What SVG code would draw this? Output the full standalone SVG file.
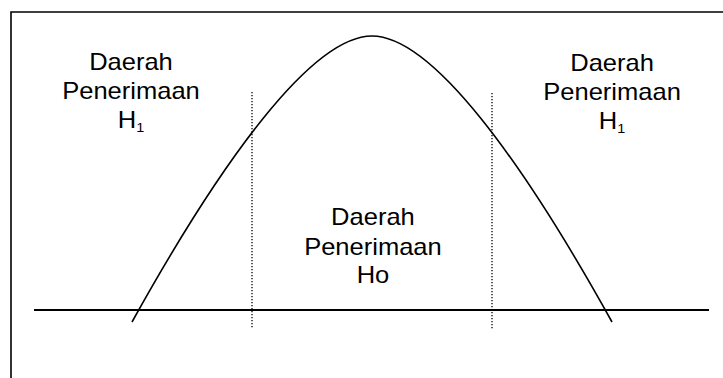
<svg xmlns="http://www.w3.org/2000/svg" width="723" height="378" viewBox="0 0 723 378">
<style>
.frame{fill:none;stroke:#000;stroke-width:1.6}
.curve{fill:none;stroke:#000;stroke-width:1.6}
.axis{fill:none;stroke:#000;stroke-width:1.8}
.dot{fill:none;stroke:#000;stroke-width:1.3;stroke-dasharray:1.2 1.8}
.lbl{font-family:"Liberation Sans",Arial,sans-serif;font-size:23px;fill:#000;text-anchor:middle}
.sub{font-size:13px}
</style>
<rect width="723" height="378" fill="#fff"/>
<g id="frame">
<path class="frame" d="M11,378 V12 H723"/>
</g>
<g id="connectors">
<path id="axis" class="axis" d="M34,310 H709"/>
<path id="bell" class="curve" d="M132,322 C222,160 312,36 372,36 C432,36 522,160 612,322"/>
<path id="crit-left" class="dot" d="M252,92 V329"/>
<path id="crit-right" class="dot" d="M492,93 V329"/>
</g>
<g transform="scale(1.11 1)">
<g id="region-left">
<text class="lbl" x="118" y="70">Daerah</text>
<text class="lbl" x="118" y="99">Penerimaan</text>
<text class="lbl" x="118" y="128">H<tspan class="sub" dy="4">1</tspan></text>
</g>
<g id="region-right">
<text class="lbl" x="551.4" y="71">Daerah</text>
<text class="lbl" x="551.4" y="100">Penerimaan</text>
<text class="lbl" x="551.4" y="129">H<tspan class="sub" dy="4">1</tspan></text>
</g>
<g id="region-center">
<text class="lbl" x="336" y="225">Daerah</text>
<text class="lbl" x="336" y="255">Penerimaan</text>
<text class="lbl" x="336" y="283">Ho</text>
</g>
</g>
</svg>
